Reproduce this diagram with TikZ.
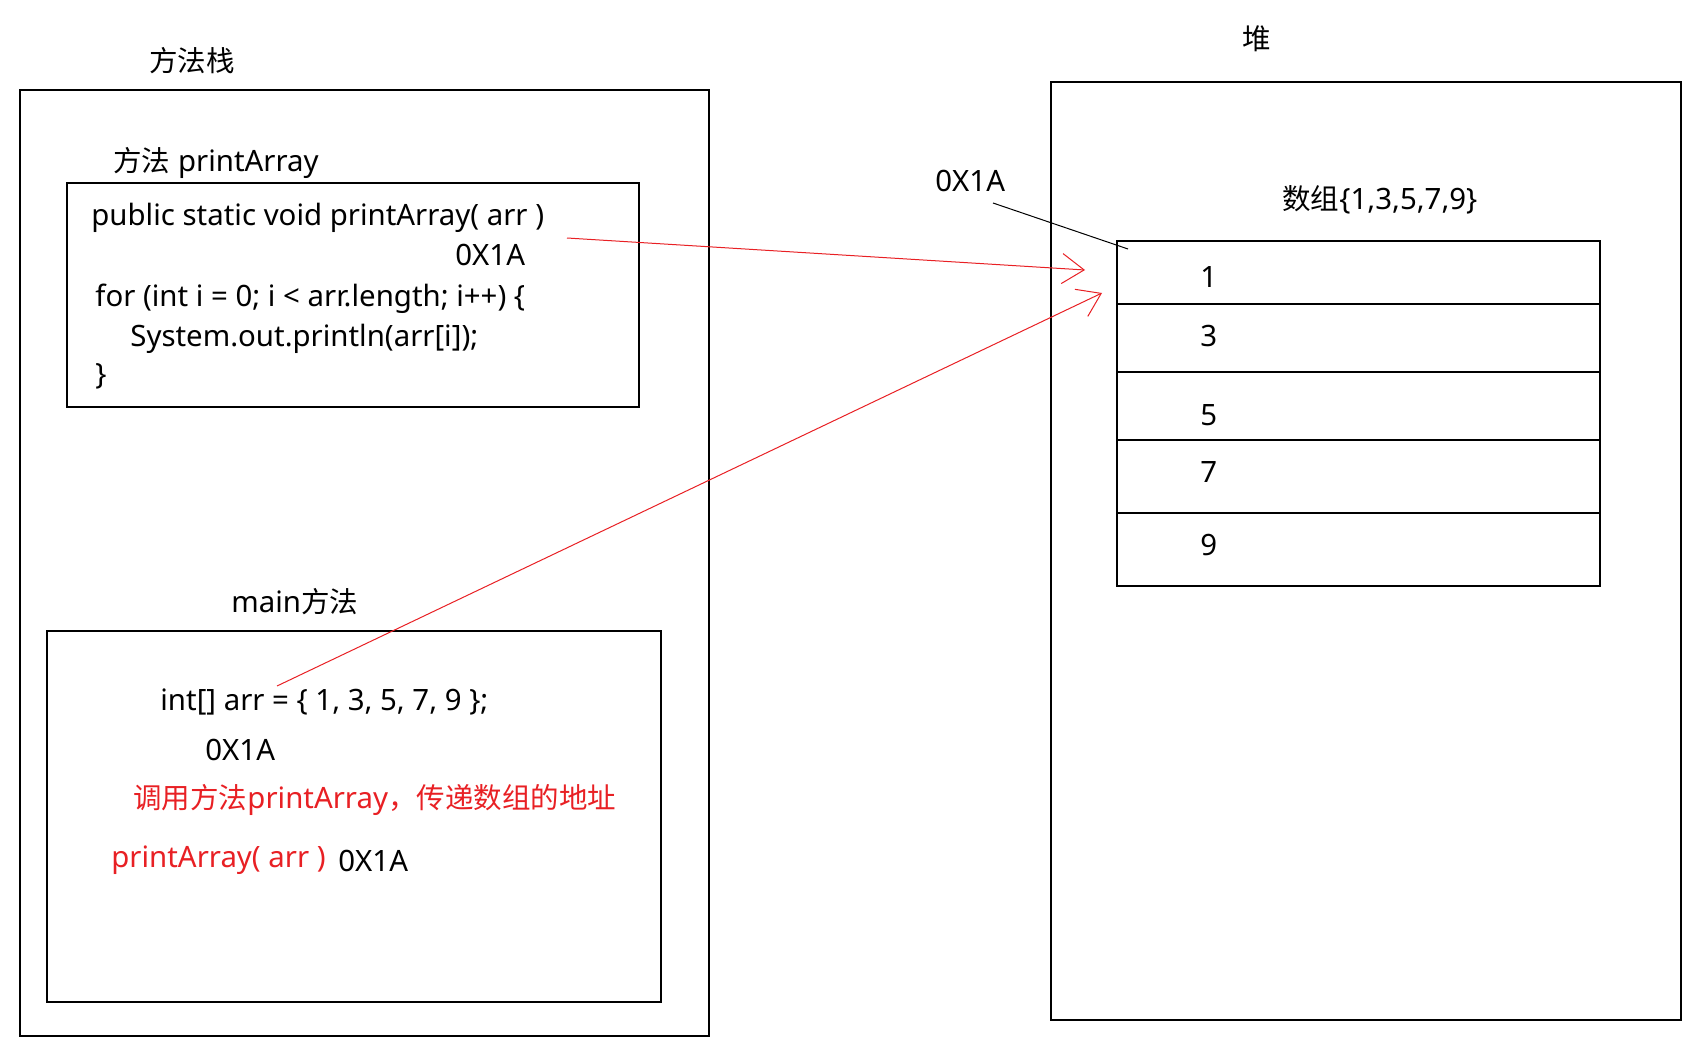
\documentclass[tikz,border=0pt]{standalone}
\usepackage{fontspec}
\setmainfont{Noto Sans}
\newfontfamily\cjk[Scale=0.97]{Noto Sans CJK SC}
\usetikzlibrary{arrows.meta}
\definecolor{callred}{RGB}{232,32,36}

\begin{document}
\begin{tikzpicture}[x=0.5pt, y=-0.5pt]
\tikzstyle{frame} = [draw, line width=0.7pt]
\tikzstyle{txt} = [anchor=west, inner sep=0pt, font=\fontsize{14.7}{17}\selectfont]
\tikzstyle{redtxt} = [txt, text=callred]
\tikzstyle{ptr} = [draw=callred, line width=0.5pt, -{Straight Barb[length=11pt, width=15pt]}]
\useasboundingbox (0,0) rectangle (1702,1054);

% method stack
\node[txt] (stacktitle) at (149,61) {{\cjk 方法栈}};
\draw[frame] (20,90) rectangle (709,1036);

\node[txt] (printtitle) at (113,163) {{\cjk 方法} printArray};
\draw[frame] (67,183) rectangle (639,407);
\node[txt] (sig) at (91,218) {public static void printArray( arr )};
\node[txt] (sigaddr) at (455,255) {0X1A};
\node[txt] (loop) at (95,299) {for (int i = 0; i < arr.length; i++) \{};
\node[txt] (body) at (130,339) {System.out.println(arr[i]);};
\node[txt] (close) at (95,376) {\}};

\node[txt] (maintitle) at (231,602) {main{\cjk 方法}};
\draw[frame] (47,631) rectangle (661,1002);
\node[txt] (decl) at (160,702) {int[] arr = \{ 1, 3, 5, 7, 9 \};};
\node[txt] (decladdr) at (205,750) {0X1A};
\node[redtxt] (note) at (133,800) {{\cjk 调用方法}printArray{\cjk ，传递数组的地址}};
\node[redtxt] (call) at (111,860) {printArray( arr )};
\node[txt] (calladdr) at (338,861) {0X1A};

% heap
\node[txt, anchor=center] (heaptitle) at (1257,39) {{\cjk 堆}};
\draw[frame] (1051,82) rectangle (1681,1020);
\node[txt] (arrtitle) at (1282,200) {{\cjk 数组}\{1,3,5,7,9\}};
\node[txt] (heapaddr) at (935,181) {0X1A};

\draw[frame] (1117,241) rectangle (1600,586);
\foreach \y in {304,372,440,513}
	\draw[frame] (1117,\y) -- (1600,\y);
\foreach \v/\y in {1/277,3/336,5/415,7/472,9/545}
	\node[txt] (num\v) at (1200,\y) {\v};

% pointers
\coordinate (sigend) at (567,238);
\coordinate (declend) at (277,686);
\coordinate (tip1) at (1085,270);
\coordinate (tip2) at (1102,293);
\draw[line width=0.5pt] (993,203) -- (1128,249);
\draw[ptr] (sigend) -- (tip1);
\draw[ptr] (declend) -- (tip2);
\end{tikzpicture}
\end{document}
